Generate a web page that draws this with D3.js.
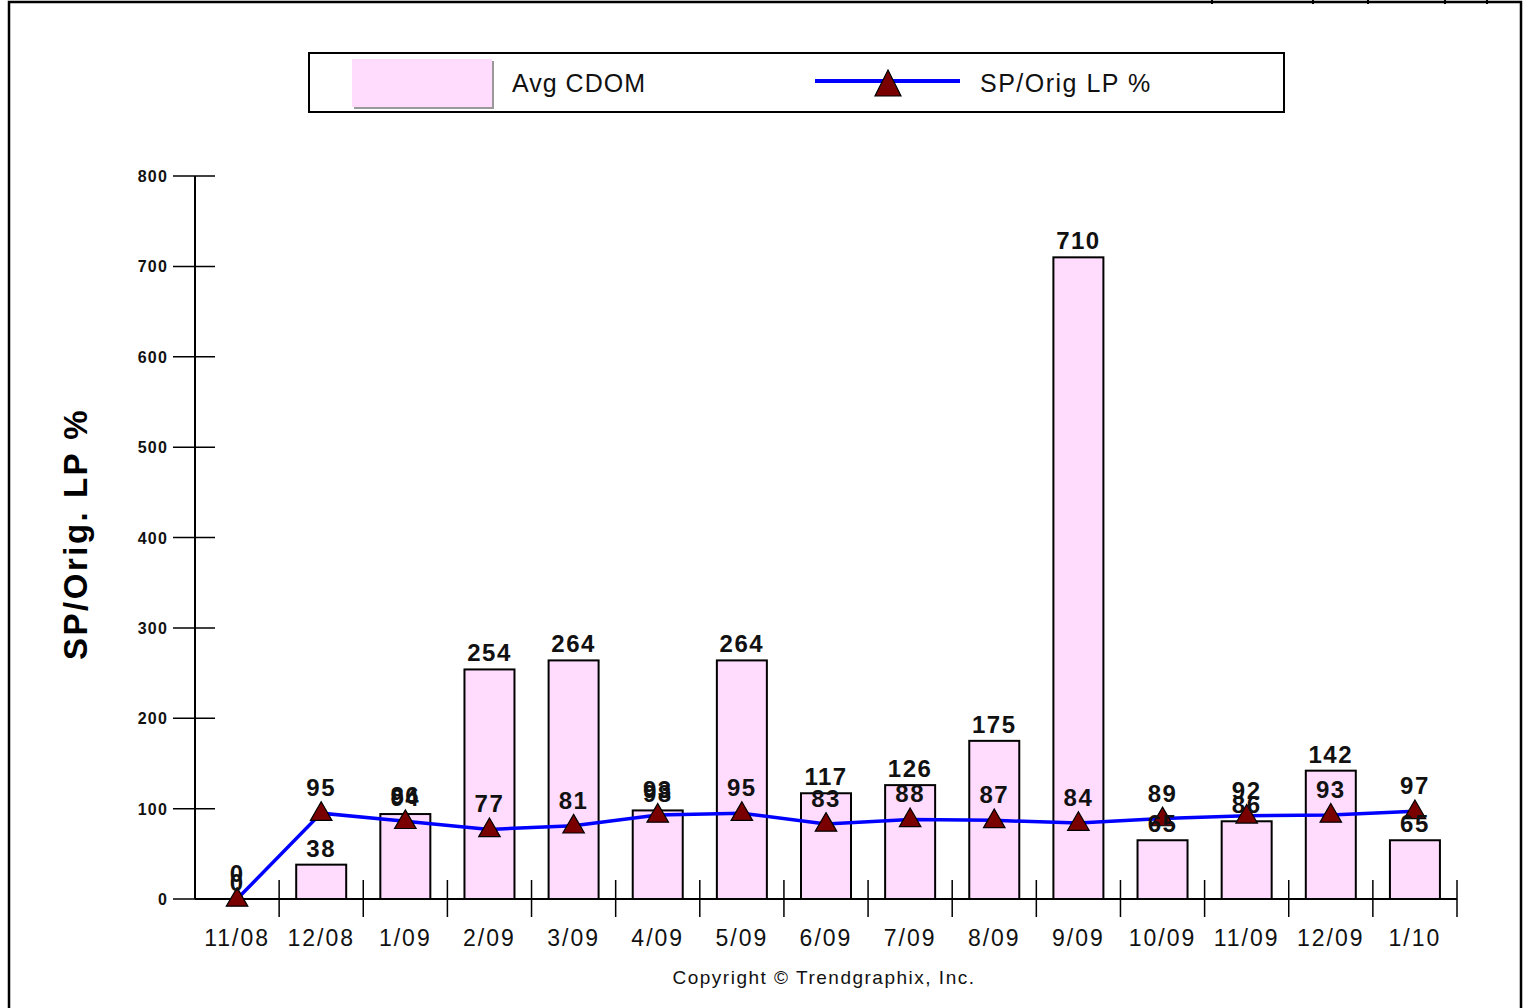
<!DOCTYPE html>
<html>
<head>
<meta charset="utf-8">
<script src="https://cdn.jsdelivr.net/npm/d3@7"></script>
<style>
  body { margin: 0; background: #fff; }
  text { font-family: "Liberation Sans", Arial, sans-serif; }
</style>
</head>
<body>
<svg id="chart" width="1527" height="1008"></svg>
<script>
// months on the x axis
const months = ['11/08', '12/08', '1/09', '2/09', '3/09', '4/09', '5/09', '6/09',
                '7/09', '8/09', '9/09', '10/09', '11/09', '12/09', '1/10'];
// Avg CDOM (bars)
const avgCdom = [0, 38, 94, 254, 264, 98, 264, 117, 126, 175, 710, 65, 86, 142, 65];
// SP/Orig LP % (line)
const spOrigLp = [0, 95, 86, 77, 81, 93, 95, 83, 88, 87, 84, 89, 92, 93, 97];
const yTicks = [0, 100, 200, 300, 400, 500, 600, 700, 800];

const svg = d3.select('#chart');

// frame
svg.append('path')
  .attr('d', 'M9,1008 V2 H1521 V1008')
  .attr('fill', 'none').attr('stroke', '#000').attr('stroke-width', 2.5);
// little marks hanging off the top edge
svg.selectAll('.topmark').data([1212, 1313, 1368, 1445, 1487]).join('line')
  .attr('x1', d => d).attr('x2', d => d).attr('y1', 0).attr('y2', 4)
  .attr('stroke', '#000').attr('stroke-width', 2);

const x = d3.scaleBand().domain(months).range([195, 1457]);
const y = d3.scaleLinear().domain([0, 800]).range([899, 176]);
const cx = i => x(months[i]) + x.bandwidth() / 2;

// y axis
const yAxis = svg.append('g');
yAxis.append('line').attr('x1', 195).attr('x2', 195).attr('y1', y(800)).attr('y2', y(0))
  .attr('stroke', '#000').attr('stroke-width', 2);
yAxis.selectAll('.yt').data(yTicks).join('line')
  .attr('x1', 173).attr('x2', 215).attr('y1', d => y(d)).attr('y2', d => y(d))
  .attr('stroke', '#000').attr('stroke-width', 1.5);
yAxis.selectAll('.yl').data(yTicks).join('text')
  .attr('x', 168).attr('y', d => y(d) + 6)
  .attr('text-anchor', 'end').attr('font-size', 16).attr('font-weight', 'bold')
  .attr('letter-spacing', 1.2).attr('fill', '#111').text(d => d);

svg.append('text')
  .attr('transform', 'translate(87,534) rotate(-90)')
  .attr('text-anchor', 'middle').attr('font-size', 33).attr('font-weight', 'bold')
  .attr('letter-spacing', 2.5).text('SP/Orig. LP %');

// x axis
svg.append('line').attr('x1', 195).attr('x2', 1457).attr('y1', y(0)).attr('y2', y(0))
  .attr('stroke', '#000').attr('stroke-width', 2);
svg.selectAll('.xt').data(months.slice(1).concat(['end'])).join('line')
  .attr('x1', d => d === 'end' ? 1457 : x(d)).attr('x2', d => d === 'end' ? 1457 : x(d))
  .attr('y1', 880).attr('y2', 917)
  .attr('stroke', '#000').attr('stroke-width', 1.5);
svg.selectAll('.xl').data(months).join('text')
  .attr('x', d => x(d) + x.bandwidth() / 2).attr('y', 946)
  .attr('text-anchor', 'middle').attr('font-size', 23).attr('fill', '#111')
  .attr('letter-spacing', 2).text(d => d);

// bars
const barW = 50;
svg.selectAll('.bar').data(avgCdom).join('rect')
  .attr('x', (d, i) => cx(i) - barW / 2)
  .attr('y', d => y(d)).attr('width', barW).attr('height', d => y(0) - y(d))
  .attr('fill', '#ffdcfe').attr('stroke', '#000').attr('stroke-width', 2);

// line
const line = d3.line().x((d, i) => cx(i)).y(d => y(d));
svg.append('path').datum(spOrigLp).attr('d', line)
  .attr('fill', 'none').attr('stroke', '#0000ff').attr('stroke-width', 3.5);

const tri = d3.symbol().type(d3.symbolTriangle).size(200);
svg.selectAll('.mk').data(spOrigLp).join('path')
  .attr('d', tri)
  .attr('transform', (d, i) => `translate(${cx(i)},${y(d) + 1})`)
  .attr('fill', '#7a0000').attr('stroke', '#000').attr('stroke-width', 1.2);

// value labels
svg.selectAll('.bl').data(avgCdom).join('text')
  .attr('x', (d, i) => cx(i)).attr('y', d => y(d) - 8)
  .attr('text-anchor', 'middle').attr('font-size', 24).attr('font-weight', 'bold')
  .attr('letter-spacing', 1.5).attr('fill', '#111').text(d => d);
svg.selectAll('.ll').data(spOrigLp).join('text')
  .attr('x', (d, i) => cx(i)).attr('y', d => y(d) - 17)
  .attr('text-anchor', 'middle').attr('font-size', 24).attr('font-weight', 'bold')
  .attr('letter-spacing', 1.5).attr('fill', '#111').text(d => d);

// legend
const lg = svg.append('g');
lg.append('rect').attr('x', 309).attr('y', 53).attr('width', 975).attr('height', 59)
  .attr('fill', '#fff').attr('stroke', '#000').attr('stroke-width', 2);
lg.append('rect').attr('x', 354).attr('y', 61).attr('width', 140).attr('height', 48)
  .attr('fill', '#999');
lg.append('rect').attr('x', 352).attr('y', 59).attr('width', 140).attr('height', 48)
  .attr('fill', '#ffdcfe');
lg.append('text').attr('x', 512).attr('y', 92).attr('font-size', 25).attr('fill', '#111')
  .attr('letter-spacing', 1).text('Avg CDOM');
lg.append('line').attr('x1', 815).attr('x2', 960).attr('y1', 81).attr('y2', 81)
  .attr('stroke', '#0000ff').attr('stroke-width', 4);
lg.append('path').attr('d', 'M888,70 L901,96 L875,96 Z')
  .attr('fill', '#7a0000').attr('stroke', '#000').attr('stroke-width', 1.2);
lg.append('text').attr('x', 980).attr('y', 92).attr('font-size', 25).attr('fill', '#111')
  .attr('letter-spacing', 1.5).text('SP/Orig LP %');

// copyright
svg.append('text').attr('x', 824).attr('y', 984).attr('text-anchor', 'middle')
  .attr('font-size', 19).attr('fill', '#111').attr('letter-spacing', 1.5)
  .text('Copyright \u00A9 Trendgraphix, Inc.');
</script>
</body>
</html>
